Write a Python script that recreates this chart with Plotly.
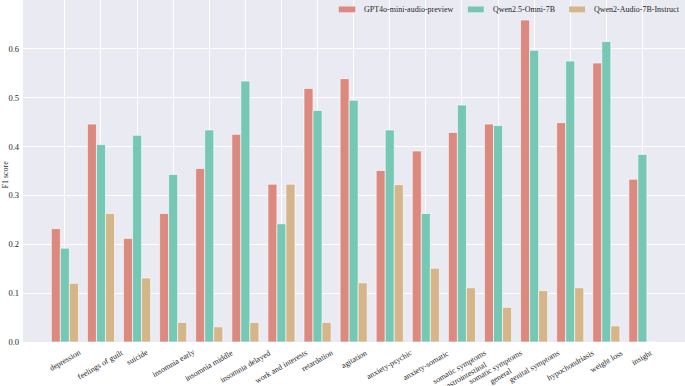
import plotly.graph_objects as go

categories = ["depression", "feelings of guilt", "suicide", "insomnia early", "insomnia middle",
              "insomnia delayed", "work and interests", "retardation", "agitation", "anxiety-psychic",
              "anxiety-somatic", "somatic symptoms<br>gastrointestinal", "somatic symptoms<br>general",
              "genital symptoms", "hypochondriasis", "weight loss", "insight"]
gpt4o = [0.232, 0.446, 0.212, 0.263, 0.355, 0.425, 0.323, 0.519, 0.539, 0.351,
         0.391, 0.429, 0.446, 0.659, 0.449, 0.571, 0.333]
qwen_omni = [0.192, 0.404, 0.423, 0.343, 0.434, 0.534, 0.242, 0.474, 0.495, 0.434,
             0.263, 0.485, 0.443, 0.597, 0.575, 0.615, 0.384]
qwen_audio = [0.120, 0.263, 0.131, 0.040, 0.031, 0.040, 0.323, 0.040, 0.121, 0.322,
              0.151, 0.111, 0.071, 0.105, 0.111, 0.033, 0.0]
series_names = ["GPT4o-mini-audio-preview", "Qwen2.5-Omni-7B", "Qwen2-Audio-7B-Instruct"]
colors = ["#DC8A80", "#76C8B5", "#D5B58A"]
yticks = [0.0, 0.1, 0.2, 0.3, 0.4, 0.5, 0.6]

FONT = "Liberation Serif, Times New Roman, serif"
TXT = "#262626"
FS = 8
x_idx = list(range(len(categories)))

fig = go.Figure()
for name, vals, c in zip(series_names, [gpt4o, qwen_omni, qwen_audio], colors):
    fig.add_trace(go.Bar(x=x_idx, y=vals, name=name, showlegend=False, hoverinfo="skip",
                         marker=dict(color=c, line=dict(color="rgba(255,255,255,0.6)", width=1))))

for i, cat in enumerate(categories):
    fig.add_annotation(x=i, y=-0.01, xref="x", yref="paper", text=cat, showarrow=False,
                       textangle=-30, xanchor="center", yanchor="top",
                       font=dict(family=FONT, size=FS, color=TXT))

# y-axis title
fig.add_annotation(x=-0.027, y=0.49, xref="paper", yref="paper", text="F1 score", showarrow=False,
                   textangle=-90, xanchor="center", yanchor="middle",
                   font=dict(family=FONT, size=FS, color=TXT))

# custom legend
leg_patch_x = [(0.477, 0.502), (0.672, 0.696), (0.825, 0.849)]
leg_text_x = [0.512, 0.707, 0.860]
for name, c, (x0, x1), tx in zip(series_names, colors, leg_patch_x, leg_text_x):
    fig.add_shape(type="rect", xref="paper", yref="paper", x0=x0, x1=x1, y0=0.964, y1=0.981,
                  fillcolor=c, line=dict(width=0))
    fig.add_annotation(x=tx, y=0.972, xref="paper", yref="paper", text=name, showarrow=False,
                       xanchor="left", yanchor="middle", font=dict(family=FONT, size=FS, color=TXT))

fig.update_layout(
    width=685, height=386,
    margin=dict(l=23, r=0, t=0, b=44, autoexpand=False),
    paper_bgcolor="white", plot_bgcolor="#EAEAF2",
    barmode="group", bargap=0.25, bargroupgap=0.0,
    font=dict(family=FONT, size=FS, color=TXT),
    xaxis=dict(range=[-1.16, 17.18], tickvals=x_idx, showticklabels=False, automargin=False,
               showgrid=True, gridcolor="white", gridwidth=1, zeroline=False, ticks=""),
    yaxis=dict(range=[0, 0.7], tickvals=yticks, ticktext=[f"{v:.1f}" for v in yticks],
               automargin=False, ticklabelstandoff=3,
               showgrid=True, gridcolor="white", gridwidth=1, zeroline=False, ticks="",
               tickfont=dict(family=FONT, size=FS + 0.5, color=TXT)),
    showlegend=False,
    hovermode=False,
)

fig.write_html("out.html", config={"displayModeBar": False},
               post_script="document.body.style.margin='0';document.body.style.overflow='hidden';")
